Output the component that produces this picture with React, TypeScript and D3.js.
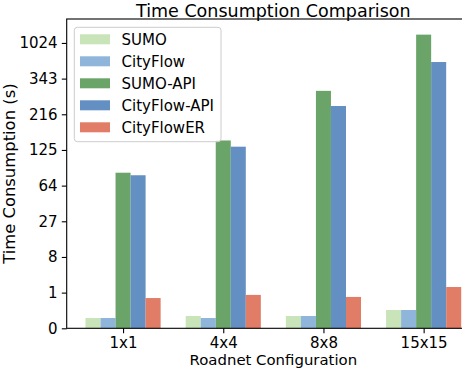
import React, { useEffect, useRef } from "react";
import * as d3 from "d3";

// roadnet sizes along x
const categories = ["1x1", "4x4", "8x8", "15x15"];

// values (seconds)
const sumo = [0.024, 0.041, 0.041, 0.135];
const cityflow = [0.024, 0.024, 0.041, 0.135];
const sumoApi = [83, 146, 295, 558];
const cityflowApi = [79, 132, 242, 416];
const cityflowER = [0.61, 0.82, 0.68, 1.55];

const seriesNames = ["SUMO", "CityFlow", "SUMO-API", "CityFlow-API", "CityFlowER"];
const seriesColors = ["#c8e4b8", "#8fb6da", "#6aa468", "#648fc2", "#e17c66"];

const yTickValues = [0, 1, 8, 27, 64, 125, 216, 343, 512];
const yTickLabels = ["0", "1", "8", "27", "64", "125", "216", "343", "1024"];

const FONT = "DejaVu Sans, sans-serif";

const App = () => {
  const ref = useRef<SVGSVGElement>(null);

  useEffect(() => {
    if (!ref.current) return;
    const svg = d3.select(ref.current);
    svg.selectAll("*").remove();

    const W = 462;
    const H = 370;
    const left = 66.7;
    const right = 480; // right spine sits past the window edge
    const top = 19;
    const bottom = 328.3;

    svg.attr("width", W).attr("height", H);

    const series = [sumo, cityflow, sumoApi, cityflowApi, cityflowER];
    const barW = 0.15;

    const x = d3.scaleLinear().domain([-0.5625, 3.5625]).range([left, right]);
    const y = d3.scalePow().exponent(1 / 3).domain([0, 652]).range([bottom, top]);

    // bars
    series.forEach((vals, si) => {
      svg
        .append("g")
        .selectAll("rect")
        .data(vals)
        .enter()
        .append("rect")
        .attr("x", (d, i) => x(i + (si - 2) * barW - barW / 2))
        .attr("width", x(barW) - x(0))
        .attr("y", (d) => y(d))
        .attr("height", (d) => y(0) - y(d))
        .attr("fill", seriesColors[si]);
    });

    // axes
    const yAxis = d3
      .axisLeft(y)
      .tickValues(yTickValues)
      .tickFormat((d, i) => yTickLabels[i])
      .tickSize(4.9)
      .tickPadding(4.2);
    const gy = svg.append("g").attr("transform", `translate(${left},0)`).call(yAxis);

    const xAxis = d3
      .axisBottom(x)
      .tickValues(categories.map((c, i) => i))
      .tickFormat((d, i) => categories[i])
      .tickSize(4.9)
      .tickPadding(4.2);
    const gx = svg.append("g").attr("transform", `translate(0,${bottom})`).call(xAxis);

    [gx, gy].forEach((g) => {
      g.select(".domain").remove();
      g.selectAll("line").attr("stroke", "#000").attr("stroke-width", 1.1);
      g.selectAll("text")
        .attr("fill", "#000")
        .style("font-family", FONT)
        .style("font-size", "15px");
    });

    // spines
    svg
      .append("rect")
      .attr("x", left)
      .attr("y", top)
      .attr("width", right - left)
      .attr("height", bottom - top)
      .attr("fill", "none")
      .attr("stroke", "#000")
      .attr("stroke-width", 1.1);

    // title and labels
    svg
      .append("text")
      .attr("x", (left + right) / 2)
      .attr("y", 16.5)
      .attr("text-anchor", "middle")
      .style("font-family", FONT)
      .style("font-size", "17.5px")
      .text("Time Consumption Comparison");

    svg
      .append("text")
      .attr("x", (left + right) / 2)
      .attr("y", 364.5)
      .attr("text-anchor", "middle")
      .style("font-family", FONT)
      .style("font-size", "14.9px")
      .text("Roadnet Configuration");

    svg
      .append("text")
      .attr("transform", `translate(15,${(top + bottom) / 2}) rotate(-90)`)
      .attr("text-anchor", "middle")
      .style("font-family", FONT)
      .style("font-size", "16.4px")
      .text("Time Consumption (s)");

    // legend
    const lg = svg.append("g");
    lg.append("rect")
      .attr("x", 74.3)
      .attr("y", 27.3)
      .attr("width", 146.7)
      .attr("height", 114.4)
      .attr("rx", 3)
      .attr("fill", "#fff")
      .attr("fill-opacity", 0.8)
      .attr("stroke", "#cccccc")
      .attr("stroke-width", 1);

    seriesNames.forEach((name, i) => {
      const cy = 39.3 + i * 22;
      lg.append("rect")
        .attr("x", 80)
        .attr("y", cy - 5)
        .attr("width", 30)
        .attr("height", 10)
        .attr("fill", seriesColors[i]);
      lg.append("text")
        .attr("x", 121.5)
        .attr("y", cy + 5.4)
        .style("font-family", FONT)
        .style("font-size", "15px")
        .text(name);
    });
  }, []);

  return (
    <svg
      ref={ref}
      style={{ position: "absolute", left: 0, top: 0, display: "block" }}
    />
  );
};

export default App;
